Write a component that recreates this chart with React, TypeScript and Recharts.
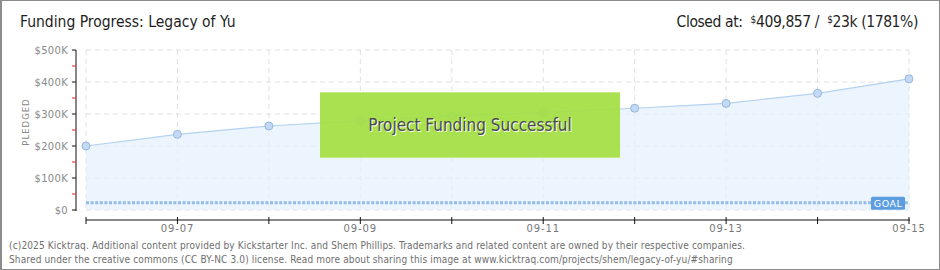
import React from 'react';
import * as R from 'recharts';

const { ComposedChart, Area, XAxis, YAxis, CartesianGrid, ReferenceLine } = R as any;

// ---- data ----
const dates = ['09-06', '09-07', '09-08', '09-09', '09-10', '09-11', '09-12', '09-13', '09-14', '09-15'];
const pledged = [200000, 236500, 262500, 279000, 294000, 305000, 318000, 333000, 364600, 409857];
const goal = 23000;
const yTicks = [0, 50000, 100000, 150000, 200000, 250000, 300000, 350000, 400000, 450000, 500000];
const yGridValues = [0, 100000, 200000, 300000, 400000, 500000];
const labeledDates = ['09-07', '09-09', '09-11', '09-13', '09-15'];

const title = 'Funding Progress: Legacy of Yu';
const closedAmount = '409,857';
const goalText = '23k';
const percentText = '(1781%)';
const footer1 = '(c)2025 Kicktraq. Additional content provided by Kickstarter Inc. and Shem Phillips. Trademarks and related content are owned by their respective companies.';
const footer2 = 'Shared under the creative commons (CC BY-NC 3.0) license. Read more about sharing this image at www.kicktraq.com/projects/shem/legacy-of-yu/#sharing';

const data = dates.map((d, i) => ({ date: d, pledged: pledged[i] }));

const W = 940;
const H = 270;
const MARGIN = { top: 50, right: 31, bottom: 0, left: 0 };
const Y_W = 86;
const X_H = 60;

const NARROW = '"DejaVu Sans Condensed", "DejaVu Sans", sans-serif';
const PIX = '"DejaVu Sans", sans-serif';

const fmtK = (v: number) => (v === 0 ? '$0' : `$${v / 1000}K`);

function YTick(props: any) {
  const { x, y, payload } = props;
  const v = payload.value as number;
  const major = v % 100000 === 0;
  const ax = x - 10; // axis line offset from plot
  return (
    <g>
      <line x1={ax - 4} x2={ax} y1={y} y2={y} stroke={major ? '#111' : '#e02020'} strokeWidth={1} />
      {major && (
        <text x={ax - 8} y={y + 4} textAnchor="end" fontSize={10} fill="#8a8a8a" fontFamily={PIX} letterSpacing={0.3}>
          {fmtK(v)}
        </text>
      )}
    </g>
  );
}

function XTick(props: any) {
  const { x, y, payload } = props;
  const ay = y + 10;
  const show = labeledDates.includes(payload.value);
  return (
    <g>
      <line x1={x} x2={x} y1={ay - 3} y2={ay + 4} stroke="#111" strokeWidth={1} />
      {show && (
        <text x={x} y={ay + 12} textAnchor="middle" fontSize={10} fill="#777" fontFamily={PIX} letterSpacing={0.9}>
          {payload.value}
        </text>
      )}
    </g>
  );
}

function AxisFrame() {
  const hook = (R as any).usePlotArea;
  const pa = hook ? hook() : null;
  const left = pa ? pa.x : Y_W + MARGIN.left;
  const top = pa ? pa.y : MARGIN.top;
  const width = pa ? pa.width : W - MARGIN.right - Y_W - MARGIN.left;
  const height = pa ? pa.height : H - MARGIN.top - MARGIN.bottom - X_H;
  return (
    <g>
      <line x1={left - 10} x2={left - 10} y1={top} y2={top + height + 1} stroke="#111" strokeWidth={1} />
      <line x1={left} x2={left + width + 1} y1={top + height + 10} y2={top + height + 10} stroke="#111" strokeWidth={1} />
    </g>
  );
}

function GoalLabel(props: any) {
  const vb = props.viewBox || {};
  const right = vb.x + vb.width - 4;
  const cy = vb.y;
  return (
    <g>
      <rect x={right - 34} y={cy - 6} width={34} height={13} rx={1.5} fill="#5c9de0" />
      <text x={right - 17} y={cy + 4} textAnchor="middle" fontSize={9.5} fill="#fff" fontFamily={PIX} letterSpacing={0.5}>
        GOAL
      </text>
    </g>
  );
}

export default function App() {
  return (
    <div
      style={{
        position: 'absolute',
        left: 0,
        top: 0,
        width: W,
        height: H,
        boxSizing: 'border-box',
        border: '1px solid #8c8c8c',
        borderLeftWidth: 2,
        background: '#fff',
        overflow: 'hidden',
      }}
    >
      <div style={{ position: 'absolute', left: -2, top: -1 }}>
        <ComposedChart width={W} height={H} data={data} margin={MARGIN}>
          <CartesianGrid
            stroke="#e0e0e0"
            strokeDasharray="5 4"
            horizontalValues={yGridValues}
          />
          <XAxis
            dataKey="date"
            type="category"
            scale="point"
            height={X_H}
            axisLine={false}
            tickLine={false}
            tickSize={0}
            tickMargin={0}
            interval={0}
            tick={<XTick />}
          />
          <YAxis
            type="number"
            domain={[0, 500000]}
            ticks={yTicks}
            interval={0}
            width={Y_W}
            axisLine={false}
            tickLine={false}
            tickSize={0}
            tickMargin={0}
            tick={<YTick />}
          />
          <Area
            type="linear"
            dataKey="pledged"
            stroke="#b3d2f2"
            strokeWidth={1.2}
            fill="#e6f0fc"
            fillOpacity={0.75}
            isAnimationActive={false}
            dot={{ r: 4, fill: '#c4daf4', stroke: '#95b6de', strokeWidth: 1, fillOpacity: 1 }}
            activeDot={false}
          />
          <ReferenceLine
            y={goal}
            stroke="#92bce9"
            strokeWidth={3}
            strokeDasharray="3 1.6"
            label={<GoalLabel />}
          />
          <AxisFrame />
        </ComposedChart>
      </div>

      {/* header */}
      <div
        style={{
          position: 'absolute',
          left: 18,
          top: 12,
          fontFamily: NARROW,
          fontSize: 15.5,
          color: '#1e1e1e',
          whiteSpace: 'nowrap',
          letterSpacing: 0,
        }}
      >
        {title}
      </div>
      <div
        style={{
          position: 'absolute',
          right: 21,
          top: 12,
          fontFamily: NARROW,
          fontSize: 15.5,
          color: '#1e1e1e',
          whiteSpace: 'nowrap',
          letterSpacing: -0.4,
        }}
      >
        Closed at:&nbsp; <sup style={{ fontSize: 10, verticalAlign: 4 }}>$</sup>
        {closedAmount} /&nbsp; <sup style={{ fontSize: 10, verticalAlign: 4 }}>$</sup>
        {goalText} {percentText}
      </div>

      {/* y label */}
      <div
        style={{
          position: 'absolute',
          left: 24,
          top: 121,
          transform: 'translate(-50%, -50%) rotate(-90deg)',
          fontFamily: PIX,
          fontSize: 8.5,
          color: '#888',
          letterSpacing: 1,
          whiteSpace: 'nowrap',
        }}
      >
        PLEDGED
      </div>

      {/* success overlay */}
      <div
        style={{
          position: 'absolute',
          left: 318,
          top: 91,
          width: 300,
          height: 66,
          background: 'rgba(163, 222, 66, 0.92)',
          borderTop: '1px solid #c4ea8a',
          borderBottom: '1px solid #c4ea8a',
          display: 'flex',
          alignItems: 'center',
          justifyContent: 'center',
          fontFamily: NARROW,
          fontSize: 17,
          color: '#4a4a4a',
          textShadow: '1px 1px 0 #fff',
          whiteSpace: 'nowrap',
          boxSizing: 'border-box',
        }}
      >
        Project Funding Successful
      </div>

      {/* footer */}
      <div
        style={{
          position: 'absolute',
          left: 7,
          top: 238,
          fontFamily: NARROW,
          fontSize: 10,
          lineHeight: '14px',
          color: '#6e6e6e',
          whiteSpace: 'nowrap',
          letterSpacing: 0.14,
        }}
      >
        <div>{footer1}</div>
        <div>{footer2}</div>
      </div>
    </div>
  );
}
